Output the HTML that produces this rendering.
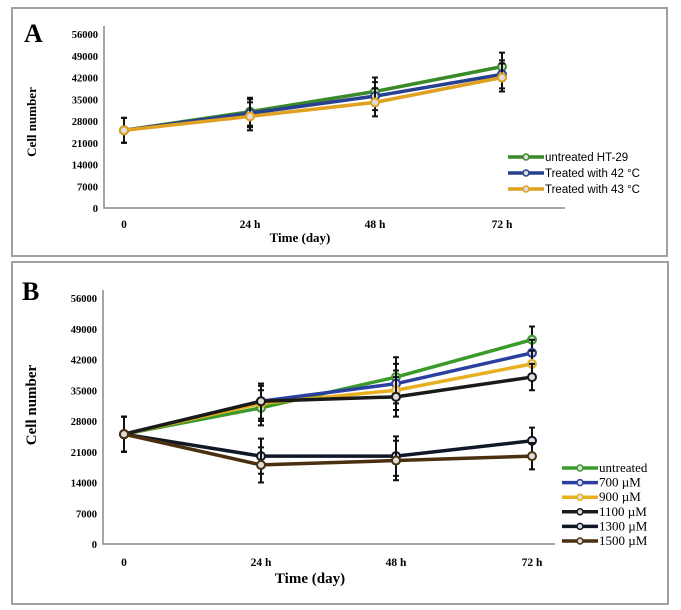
<!DOCTYPE html>
<html><head><meta charset="utf-8"><style>
html,body{margin:0;padding:0;background:#fff;}
svg{display:block;font-family:"Liberation Serif",serif;}
</style></head><body>
<svg id="c" width="681" height="610" viewBox="0 0 681 610"></svg>
<script>
const timeLabels=["0","24 h","48 h","72 h"];
const yTicks=[0,7000,14000,21000,28000,35000,42000,49000,56000];
const aNames=["untreated HT-29","Treated with 42 °C","Treated with 43 °C"];
const aColors=["#3a8a2a","#27408f","#e0a020"];
const aUntreated=[25000,31000,37500,45500];
const a42=[25000,30500,36000,43000];
const a43=[25000,29500,34000,42000];
const aErr=[4000,4500,4500,4500];
const bNames=["untreated","700 µM","900 µM","1100 µM","1300 µM","1500 µM"];
const bColors=["#3a9a2a","#2a3fa0","#e8b020","#1a1a1a","#101828","#4a3010"];
const bUntreated=[25000,31000,38000,46500];
const b700=[25000,32500,36500,43500];
const b900=[25000,32000,35000,41000];
const b1100=[25000,32500,33500,38000];
const b1300=[25000,20000,20000,23500];
const b1500=[25000,18000,19000,20000];
const bErr=[4000,4000,4500,3000];

const NS="http://www.w3.org/2000/svg";
const svg=document.getElementById('c');
function el(t,a,p){const e=document.createElementNS(NS,t);for(const k in a)e.setAttribute(k,a[k]);(p||svg).appendChild(e);return e;}
function txt(s,a,p){const e=el('text',a,p);e.textContent=s;return e;}

function panel(cfg){
  const g=el('g',{});
  
  
  const b=el('rect',{x:cfg.box[0],y:cfg.box[1],width:cfg.box[2],height:cfg.box[3],fill:'#fff',stroke:'#a0a0a0','stroke-width':2},g);
  
  const L=txt(cfg.letter,{x:cfg.letterX,y:cfg.letterY,'font-size':26,'font-weight':'bold'},g);
  
  const sy=v=>cfg.y0+(cfg.y56-cfg.y0)*v/56000;
  const sx=i=>cfg.xs[i];
  const ax=el('path',{d:`M${cfg.axX},${cfg.y56-8}V${cfg.y0}H${cfg.axEnd}`,stroke:'#888','stroke-width':1.5,fill:'none'},g);
  
  yTicks.forEach(v=>{const t=txt(String(v),{x:cfg.axX-6,y:sy(v)+4,'font-size':10.5,'text-anchor':'end','font-weight':'bold'},g);
    });
  timeLabels.forEach((s,i)=>{const t=txt(s,{x:sx(i),y:cfg.y0+cfg.xlabOff,'font-size':11.5,'text-anchor':'middle','font-weight':'bold'},g);
    });
  const xt=txt('Time (day)',{x:cfg.xTitle[0],y:cfg.xTitle[1],'font-size':cfg.titleSize,'text-anchor':'middle','font-weight':'bold'},g);
  
  const yt=txt('Cell number',{x:0,y:0,'font-size':cfg.titleSize,'text-anchor':'middle','font-weight':'bold',transform:`translate(${cfg.yTitle[0]},${cfg.yTitle[1]}) rotate(-90)`},g);
  
  cfg.series.forEach((d,k)=>{
    const sg=el('g',{},g);
    
    
    d.forEach((v,i)=>{const e=cfg.err[i];
      el('path',{d:`M${sx(i)},${sy(v-e)}V${sy(v+e)}M${sx(i)-3},${sy(v-e)}h6M${sx(i)-3},${sy(v+e)}h6`,stroke:'#111','stroke-width':2},sg);});
    el('polyline',{points:d.map((v,i)=>sx(i)+','+sy(v)).join(' '),fill:'none',stroke:cfg.colors[k],'stroke-width':3.5},sg);
    d.forEach((v,i)=>el('circle',{cx:sx(i),cy:sy(v),r:4,fill:'#ddd',stroke:cfg.colors[k],'stroke-width':2},sg));
  });
  const lg=el('g',{},g);
  cfg.names.forEach((n,k)=>{const y=cfg.leg[1]+k*cfg.leg[2];
    const eg=el('g',{},lg);
    el('line',{x1:cfg.leg[0],x2:cfg.leg[0]+36,y1:y,y2:y,stroke:cfg.colors[k],'stroke-width':3.5},eg);
    el('circle',{cx:cfg.leg[0]+18,cy:y,r:3,fill:'#ddd',stroke:cfg.colors[k],'stroke-width':1.5},eg);
    txt(n,{x:cfg.leg[0]+37,y:y+4,'font-size':cfg.legSize,'font-family':cfg.legFont},eg);
  });
}
panel({name:'panel-a',box:[12,8,655,248],letter:'A',letterX:24,letterY:42,axX:104,axEnd:565,y0:208,y56:34,
  xs:[124,250,375,502],xlabOff:20,xTitle:[300,242],yTitle:[36,122],titleSize:13,
  series:[aUntreated,a42,a43],names:aNames,colors:aColors,err:aErr,
  leg:[508,157,16],legSize:11.5,legFont:'"Liberation Sans",sans-serif'});
panel({name:'panel-b',box:[12,262,656,342],letter:'B',letterX:22,letterY:300,axX:103,axEnd:555,y0:544,y56:298,
  xs:[124,261,396,532],xlabOff:22,xTitle:[310,583],yTitle:[36,405],titleSize:15,
  series:[bUntreated,b700,b900,b1100,b1300,b1500],names:bNames,colors:bColors,err:bErr,
  leg:[562,468,14.6],legSize:13,legFont:'"Liberation Serif",serif'});
</script>
</body></html>
